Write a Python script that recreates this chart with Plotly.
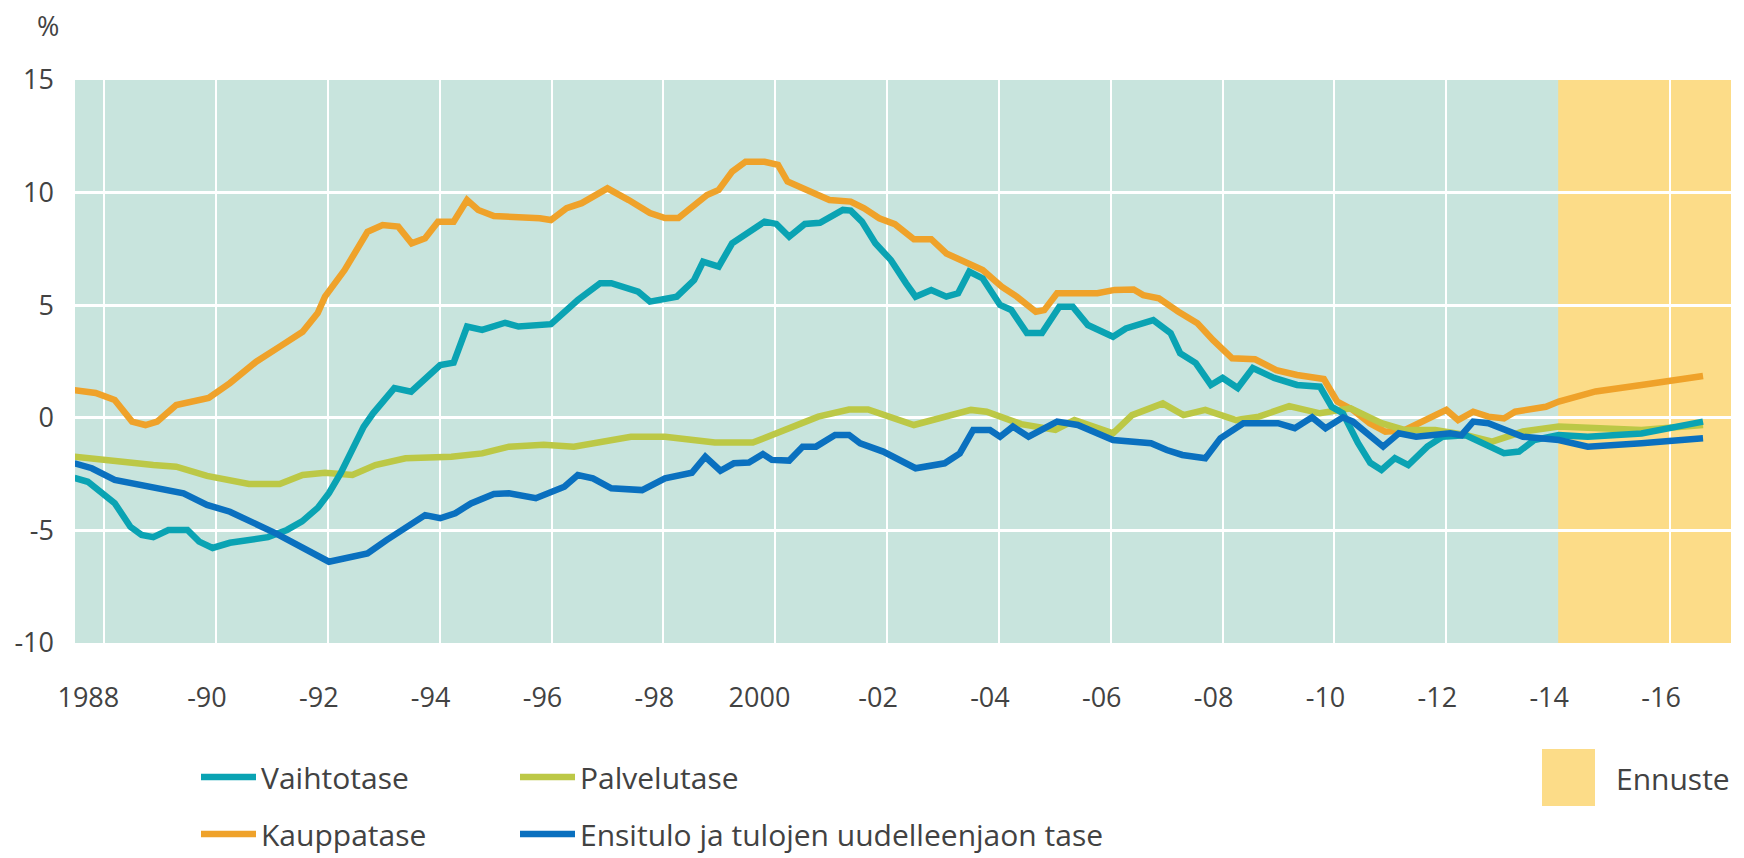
import plotly.graph_objects as go

# ---------------- axes / labels ----------------
FORECAST_START = 2014
X_RANGE = [1987.48, 2017.09]
YEAR_TICKS = list(range(1988, 2017, 2))
YEAR_LABELS = ["1988\u2002", "-90", "-92", "-94", "-96", "-98", "2000\u2002", "-02", "-04",
               "-06", "-08", "-10", "-12", "-14", "-16"]
Y_RANGE = [-10, 15]
Y_TICKS = [-10, -5, 0, 5, 10, 15]
Y_LABELS = ["-10", "-5", "0", "5", "10", "15"]

# ---------------- data ----------------
vaihtotase_x = [1987.47, 1987.71, 1988.19, 1988.47, 1988.67, 1988.88, 1989.15, 1989.49, 1989.70, 1989.94,
                1990.25, 1990.59, 1990.93, 1991.27, 1991.54, 1991.82, 1992.02, 1992.23, 1992.44, 1992.64,
                1992.81, 1993.19, 1993.49, 1993.74, 1994.01, 1994.25, 1994.49, 1994.76, 1995.17, 1995.41,
                1995.99, 1996.47, 1996.87, 1997.07, 1997.55, 1997.76, 1998.24, 1998.55, 1998.71, 1998.99,
                1999.23, 1999.81, 2000.02, 2000.25, 2000.53, 2000.80, 2001.21, 2001.35, 2001.55, 2001.79,
                2002.07, 2002.34, 2002.51, 2002.79, 2003.06, 2003.27, 2003.47, 2003.71, 2004.02, 2004.22,
                2004.50, 2004.77, 2005.08, 2005.32, 2005.59, 2006.04, 2006.27, 2006.76, 2007.07, 2007.24,
                2007.52, 2007.79, 2008.00, 2008.27, 2008.54, 2008.92, 2009.33, 2009.74, 2009.95, 2010.15,
                2010.42, 2010.64, 2010.84, 2011.08, 2011.32, 2011.66, 2011.93, 2012.34, 2012.75, 2013.03,
                2013.30, 2013.57, 2014.01, 2014.53, 2015.49, 2016.59]
vaihtotase = [-2.67, -2.84, -3.79, -4.84, -5.2, -5.3, -4.98, -4.98, -5.5, -5.78,
              -5.55, -5.4, -5.3, -4.98, -4.6, -4.0, -3.35, -2.46, -1.43, -0.4,
              0.2, 1.32, 1.16, 1.77, 2.34, 2.45, 4.05, 3.9, 4.22, 4.05,
              4.16, 5.23, 5.98, 5.98, 5.6, 5.16, 5.38, 6.12, 6.93, 6.71,
              7.75, 8.71, 8.61, 8.04, 8.61, 8.66, 9.23, 9.2, 8.71, 7.75,
              7.0, 5.97, 5.38, 5.67, 5.38, 5.53, 6.49, 6.19, 5.01, 4.79,
              3.76, 3.76, 4.93, 4.93, 4.12, 3.6, 3.97, 4.34, 3.76, 2.87,
              2.43, 1.46, 1.77, 1.32, 2.21, 1.77, 1.46, 1.38, 0.49, 0.2,
              -1.12, -2.0, -2.32, -1.79, -2.1, -1.28, -0.84, -0.77, -1.28, -1.57,
              -1.5, -0.99, -0.77, -0.84, -0.7, -0.17]

kauppatase_x = [1987.47, 1987.85, 1988.19, 1988.50, 1988.74, 1988.95, 1989.29, 1989.56, 1989.87, 1990.25,
                1990.72, 1991.14, 1991.55, 1991.82, 1991.95, 1992.30, 1992.71, 1992.98, 1993.26, 1993.50,
                1993.74, 1993.97, 1994.25, 1994.49, 1994.69, 1994.97, 1995.38, 1995.79, 1995.99, 1996.27,
                1996.54, 1997.00, 1997.38, 1997.76, 1998.03, 1998.27, 1998.78, 1998.99, 1999.23, 1999.47,
                1999.81, 2000.05, 2000.22, 2000.49, 2000.77, 2000.97, 2001.35, 2001.59, 2001.86, 2002.14,
                2002.48, 2002.79, 2003.06, 2003.44, 2003.71, 2004.05, 2004.32, 2004.66, 2004.81, 2005.04,
                2005.76, 2006.07, 2006.41, 2006.58, 2006.86, 2007.21, 2007.55, 2007.83, 2008.17, 2008.58,
                2008.96, 2009.33, 2009.81, 2010.05, 2010.33, 2010.63, 2010.91, 2011.25, 2011.66, 2012.00,
                2012.21, 2012.48, 2012.75, 2013.03, 2013.23, 2013.78, 2014.01, 2014.67, 2015.49, 2016.18,
                2016.59]
kauppatase = [1.23, 1.1, 0.79, -0.17, -0.32, -0.17, 0.57, 0.72, 0.88, 1.54,
              2.49, 3.16, 3.82, 4.65, 5.38, 6.56, 8.26, 8.56, 8.49, 7.75,
              7.97, 8.71, 8.71, 9.67, 9.23, 8.96, 8.93, 8.86, 8.78, 9.31,
              9.53, 10.19, 9.67, 9.09, 8.87, 8.87, 9.89, 10.12, 10.93, 11.37,
              11.37, 11.23, 10.49, 10.19, 9.82, 9.67, 9.6, 9.3, 8.86, 8.6,
              7.93, 7.93, 7.3, 6.86, 6.56, 5.82, 5.38, 4.71, 4.78, 5.53,
              5.53, 5.68, 5.7, 5.45, 5.31, 4.71, 4.2, 3.45, 2.64, 2.6,
              2.12, 1.9, 1.72, 0.72, 0.35, -0.24, -0.62, -0.55, -0.1, 0.35,
              -0.1, 0.27, 0.05, -0.03, 0.27, 0.49, 0.72, 1.17, 1.46, 1.71,
              1.86]

palvelutase_x = [1987.47, 1987.85, 1988.33, 1988.88, 1989.29, 1989.84, 1990.25, 1990.59, 1991.14, 1991.55,
                 1991.95, 1992.44, 1992.85, 1993.39, 1994.21, 1994.76, 1995.24, 1995.86, 1996.40, 1996.87,
                 1997.42, 1998.03, 1998.92, 1999.60, 2000.15, 2000.77, 2001.32, 2001.66, 2002.48, 2003.03,
                 2003.50, 2003.78, 2004.40, 2005.01, 2005.35, 2006.04, 2006.38, 2006.93, 2007.30, 2007.69,
                 2008.24, 2008.65, 2009.19, 2009.74, 2010.29, 2010.84, 2011.25, 2011.80, 2012.34, 2012.82,
                 2013.37, 2014.01, 2014.79, 2015.49, 2016.59]
palvelutase = [-1.73, -1.8, -1.95, -2.1, -2.17, -2.58, -2.76, -2.94, -2.94, -2.54,
               -2.44, -2.54, -2.1, -1.8, -1.73, -1.58, -1.28, -1.2, -1.28, -1.1,
               -0.84, -0.84, -1.1, -1.1, -0.54, 0.05, 0.37, 0.37, -0.32, 0.05,
               0.35, 0.27, -0.28, -0.54, -0.1, -0.69, 0.12, 0.64, 0.12, 0.35,
               -0.1, 0.05, 0.52, 0.2, 0.42, -0.24, -0.54, -0.54, -0.76, -1.06,
               -0.61, -0.39, -0.46, -0.54, -0.32]

ensitulo_x = [1987.47, 1987.78, 1988.19, 1988.88, 1989.42, 1989.84, 1990.25, 1991.07, 1992.02, 1992.71,
              1993.05, 1993.74, 1994.01, 1994.28, 1994.56, 1994.97, 1995.24, 1995.72, 1996.06, 1996.23,
              1996.47, 1996.74, 1997.07, 1997.62, 1998.03, 1998.51, 1998.75, 1999.02, 1999.26, 1999.53,
              1999.78, 1999.94, 2000.25, 2000.49, 2000.73, 2001.07, 2001.32, 2001.52, 2001.93, 2002.51,
              2003.03, 2003.30, 2003.54, 2003.84, 2004.02, 2004.25, 2004.53, 2005.04, 2005.41, 2006.04,
              2006.72, 2007.00, 2007.28, 2007.69, 2007.96, 2008.37, 2008.99, 2009.29, 2009.60, 2009.84,
              2010.15, 2010.33, 2010.87, 2011.15, 2011.46, 2012.07, 2012.27, 2012.48, 2012.75, 2013.37,
              2014.01, 2014.53, 2015.49, 2016.59]
ensitulo = [-2.02, -2.24, -2.76, -3.06, -3.35, -3.87, -4.17, -5.13, -6.39, -6.02,
            -5.43, -4.32, -4.46, -4.24, -3.8, -3.38, -3.35, -3.57, -3.2, -3.06,
            -2.54, -2.69, -3.13, -3.21, -2.69, -2.44, -1.73, -2.35, -2.02, -1.99,
            -1.61, -1.87, -1.9, -1.28, -1.28, -0.76, -0.76, -1.13, -1.5, -2.24,
            -2.02, -1.58, -0.54, -0.54, -0.84, -0.39, -0.84, -0.17, -0.32, -0.99,
            -1.13, -1.43, -1.65, -1.8, -0.91, -0.24, -0.24, -0.46, 0.02, -0.46,
            0.02, -0.17, -1.28, -0.69, -0.84, -0.69, -0.77, -0.17, -0.24, -0.84,
            -0.99, -1.28, -1.13, -0.91]

# ---------------- styling ----------------
TEXT = "#424242"
FONT = "Open Sans, Lato, sans-serif"
GREEN_BG = "#C8E4DD"
YELLOW_BG = "#FCDC88"
C_VT = "#0AA3B3"
C_KT = "#EFA22A"
C_PT = "#BCC846"
C_ET = "#0A70BF"
LW = 6.5

W, H = 1744, 858
OFF = 8  # the page body's default margin shifts the figure by this many pixels

# target plot-area edges in screen pixels
PLOT_L, PLOT_R, PLOT_T, PLOT_B = 75, 1731, 80, 643
ML, MT = PLOT_L - OFF, PLOT_T - OFF
MR, MB = W - (PLOT_R - OFF), H - (PLOT_B - OFF)
PW, PH = W - ML - MR, H - MT - MB


def px(screen_x):
    return (screen_x - OFF - ML) / PW


def py(screen_y):
    return (H - MB - (screen_y - OFF)) / PH


fig = go.Figure()

# drawing order: orange, yellow-green, teal, blue (blue on top)
fig.add_trace(go.Scatter(x=kauppatase_x, y=kauppatase, name="Kauppatase", mode="lines",
                         line=dict(color=C_KT, width=LW), legend="legend2"))
fig.add_trace(go.Scatter(x=palvelutase_x, y=palvelutase, name="Palvelutase", mode="lines",
                         line=dict(color=C_PT, width=LW), legend="legend3"))
fig.add_trace(go.Scatter(x=vaihtotase_x, y=vaihtotase, name="Vaihtotase", mode="lines",
                         line=dict(color=C_VT, width=LW), legend="legend"))
fig.add_trace(go.Scatter(x=ensitulo_x, y=ensitulo, name="Ensitulo ja tulojen uudelleenjaon tase",
                         mode="lines", line=dict(color=C_ET, width=LW), legend="legend4"))

# forecast band
fig.add_shape(type="rect", xref="x", yref="paper", x0=FORECAST_START, x1=X_RANGE[1], y0=0, y1=1,
              fillcolor=YELLOW_BG, line=dict(width=0), layer="below")

# "Ennuste" legend key
fig.add_shape(type="rect", xref="paper", yref="paper", x0=px(1542), x1=px(1595), y0=py(806), y1=py(749),
              fillcolor=YELLOW_BG, line=dict(width=0))
fig.add_annotation(text="Ennuste", xref="paper", yref="paper", x=px(1614), y=py(778),
                   xanchor="left", yanchor="middle", showarrow=False,
                   font=dict(family=FONT, size=30, color=TEXT))

# "%" unit label
fig.add_annotation(text="%", xref="paper", yref="paper", x=px(48), y=py(26),
                   xanchor="center", yanchor="middle", showarrow=False,
                   font=dict(family=FONT, size=27, color=TEXT))


def legend_at(sx, sy):
    return dict(x=px(sx), y=py(sy), xanchor="left", yanchor="middle", orientation="v",
                bgcolor="rgba(0,0,0,0)", borderwidth=0, itemwidth=55,
                font=dict(family=FONT, size=30, color=TEXT))


minor_grid = [y for y in YEAR_TICKS if y != FORECAST_START]

fig.update_layout(
    width=W, height=H,
    margin=dict(l=ML, r=MR, t=MT, b=MB, pad=0, autoexpand=False),
    paper_bgcolor="white",
    plot_bgcolor=GREEN_BG,
    showlegend=True,
    legend=legend_at(196, 777),
    legend2=legend_at(196, 834),
    legend3=legend_at(515, 777),
    legend4=legend_at(515, 834),
    xaxis=dict(range=X_RANGE, tickmode="array", tickvals=YEAR_TICKS, ticktext=YEAR_LABELS,
               showgrid=False, zeroline=False, showline=False, ticks="", automargin=False,
               ticklabelstandoff=36, ticklabelshift=-9,
               tickfont=dict(family=FONT, size=27, color=TEXT),
               minor=dict(tickmode="array", tickvals=minor_grid, showgrid=True,
                          gridcolor="white", gridwidth=2, ticks="")),
    yaxis=dict(range=Y_RANGE, tickmode="array", tickvals=Y_TICKS, ticktext=Y_LABELS,
               showgrid=True, gridcolor="white", gridwidth=3, zeroline=False, showline=False,
               ticks="", ticklabelstandoff=20, automargin=False,
               tickfont=dict(family=FONT, size=27, color=TEXT)),
)

fig.write_html("out.html")
